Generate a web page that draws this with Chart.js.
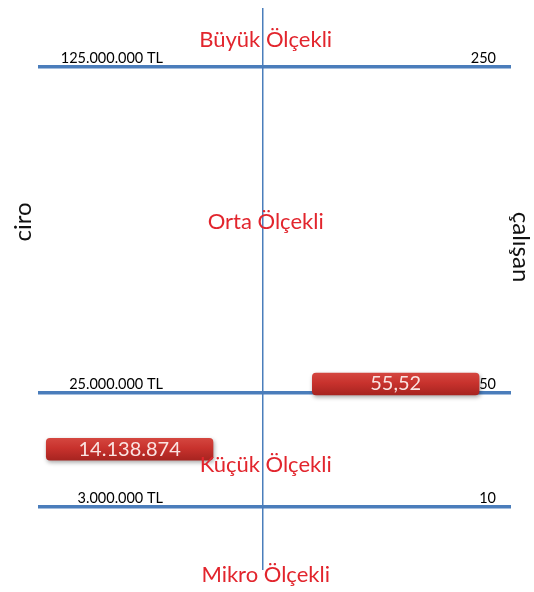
<!DOCTYPE html>
<html lang="tr">
<head>
<meta charset="utf-8">
<script src="https://cdn.jsdelivr.net/npm/chart.js@4.4.1/dist/chart.umd.min.js"></script>
<style>
html,body{margin:0;padding:0;background:#fff;}
#wrap{width:534px;height:592px;position:relative;}
</style>
</head>
<body>
<div id="wrap"><canvas id="c"></canvas></div>
<script>
// ---- data ----
const categories = ['Mikro Ölçekli', 'Küçük Ölçekli', 'Orta Ölçekli', 'Büyük Ölçekli'];
const ciroThresholds = [3000000, 25000000, 125000000];
const calisanThresholds = [10, 50, 250];
const ciroTickLabels = ['3.000.000 TL', '25.000.000 TL', '125.000.000 TL'];
const calisanTickLabels = ['10', '50', '250'];
const ciroValues = [14138874];
const calisanValues = [55.52];
const ciroValueLabels = ['14.138.874'];
const calisanValueLabels = ['55,52'];
const axisTitles = ['ciro', 'çalışan'];

// ---- layout (not data) ----
const TIER_POS = [0.1121, 0.3149, 0.895];      // where each threshold sits on the axis (0 bottom, 1 top)
const BOX = { inner: 0.21, outer: 0.915 };      // horizontal extent of the value boxes (x-scale units)
const FONT = 'Lato';
const TICK_FONT_SIZE = 14.5;

const TIER_BREAKS = { yL: ciroThresholds, yR: calisanThresholds };

// custom piecewise "tier" scale
const Lin = Chart.LinearScale || Chart.registry.getScale('linear');
class TierScale extends Lin {
  buildTicks() {
    return (TIER_BREAKS[this.id] || []).map(v => ({ value: v }));
  }
  _anchors() {
    return { b: [0, ...TIER_BREAKS[this.id]], p: [0, ...TIER_POS] };
  }
  getPixelForValue(value) {
    const { b, p } = this._anchors();
    let i = 1;
    while (i < b.length - 1 && value > b[i]) i++;
    const d = p[i - 1] + (value - b[i - 1]) / (b[i] - b[i - 1]) * (p[i] - p[i - 1]);
    return this.getPixelForDecimal(d);
  }
  getValueForPixel(pixel) {
    const { b, p } = this._anchors();
    const d = this.getDecimalForPixel(pixel);
    let i = 1;
    while (i < p.length - 1 && d > p[i]) i++;
    return b[i - 1] + (d - p[i - 1]) / (p[i] - p[i - 1]) * (b[i] - b[i - 1]);
  }
}
TierScale.id = 'tier';
TierScale.defaults = Lin.defaults;
Chart.register(TierScale);

// measure widest left tick label so labels are right-aligned at a fixed spot
const mctx = document.createElement('canvas').getContext('2d');
mctx.font = TICK_FONT_SIZE + 'px ' + FONT;
const widestL = Math.max(...ciroTickLabels.map(s => mctx.measureText(s).width));
const LEFT_W = 38, RIGHT_W = 23;
const leftPad = 125 - widestL;

function fixSide(width) {
  return (s) => { s.width = width; s.paddingTop = 0; s.paddingBottom = 0; };
}

function barGradient(ctx) {
  const chart = ctx.chart;
  if (!chart.chartArea || !ctx.raw) return '#c6302c';
  const scale = chart.scales[ctx.dataset.yAxisID];
  const y = scale.getPixelForValue(ctx.raw.y);
  const g = chart.ctx.createLinearGradient(0, y - 11, 0, y + 11);
  g.addColorStop(0, '#d4463f');
  g.addColorStop(0.45, '#c8322d');
  g.addColorStop(1, '#a72420');
  return g;
}

const diagramText = {
  id: 'diagramText',
  beforeDatasetsDraw(chart) {
    const c = chart.ctx;
    c.save();
    c.shadowColor = 'rgba(0,0,0,0.35)';
    c.shadowBlur = 4;
    c.shadowOffsetX = 1;
    c.shadowOffsetY = 2;
  },
  afterDatasetsDraw(chart) {
    const c = chart.ctx;
    c.restore();
    const area = chart.chartArea;
    const yL = chart.scales.yL;
    const cx = chart.scales.x.getPixelForValue(0) + 3;
    const yLow = yL.getPixelForValue(ciroThresholds[0]);
    const yMid = yL.getPixelForValue(ciroThresholds[1]);
    const yTop = yL.getPixelForValue(ciroThresholds[2]);
    const tierY = [yLow + 68, yLow - 42, (yTop + yMid) / 2 - 8, yTop - 27];
    c.save();
    c.textAlign = 'center';
    c.textBaseline = 'middle';
    c.font = '22px ' + FONT;
    c.fillStyle = '#e2252d';
    categories.forEach((t, i) => c.fillText(t, cx, tierY[i]));

    c.font = '20px ' + FONT;
    c.fillStyle = '#fae3e1';
    chart.data.datasets.forEach((ds, di) => {
      const meta = chart.getDatasetMeta(di);
      meta.data.forEach((el, j) => {
        const p = el.getProps(['x', 'base', 'y'], true);
        c.fillText(ds.valueLabels[j], (p.x + p.base) / 2, p.y);
      });
    });

    c.font = '24px ' + FONT;
    c.fillStyle = '#111';
    c.save();
    c.translate(area.left / 2 + 4, area.top + 214);
    c.rotate(-Math.PI / 2);
    c.fillText(axisTitles[0], 0, 0);
    c.restore();
    c.save();
    c.translate((area.right + chart.width) / 2 - 2, area.top + 239);
    c.rotate(Math.PI / 2);
    c.fillText(axisTitles[1], 0, 0);
    c.restore();
    c.restore();
  }
};

const barStyle = {
  backgroundColor: barGradient,
  grouped: false,
  barThickness: 22, maxBarThickness: 22,
  borderRadius: 4, borderSkipped: false, borderWidth: 0
};

new Chart(document.getElementById('c'), {
  type: 'bar',
  data: {
    datasets: [
      Object.assign({
        label: axisTitles[0],
        xAxisID: 'x', yAxisID: 'yL',
        data: ciroValues.map(v => ({ y: v, x: [-BOX.outer, -BOX.inner] })),
        valueLabels: ciroValueLabels
      }, barStyle),
      Object.assign({
        label: axisTitles[1],
        xAxisID: 'x', yAxisID: 'yR',
        data: calisanValues.map(v => ({ y: v, x: [BOX.inner, BOX.outer] })),
        valueLabels: calisanValueLabels
      }, barStyle)
    ]
  },
  options: {
    indexAxis: 'y',
    responsive: true,
    maintainAspectRatio: false,
    animation: false,
    layout: { padding: { top: 8, bottom: 22, left: 0, right: 0 } },
    plugins: { legend: { display: false }, tooltip: { enabled: false } },
    scales: {
      x: {
        type: 'linear', position: 'bottom', min: -0.95, max: 1.05,
        afterBuildTicks: (axis) => { axis.ticks = [{ value: 0 }]; },
        ticks: { display: false },
        grid: { color: '#4a7ebb', lineWidth: 1.5, drawTicks: false },
        border: { display: false }
      },
      yL: {
        type: 'tier', position: 'left', offset: false,
        afterFit: fixSide(LEFT_W),
        ticks: {
          mirror: true, crossAlign: 'far', padding: leftPad, labelOffset: -9,
          color: '#000', font: { family: FONT, size: TICK_FONT_SIZE },
          callback: (v, i) => ciroTickLabels[i]
        },
        grid: { color: '#4a7dbb', lineWidth: 3.5, drawTicks: false, offset: false },
        border: { display: false }
      },
      yR: {
        type: 'tier', position: 'right', offset: false,
        afterFit: fixSide(RIGHT_W),
        ticks: {
          mirror: true, crossAlign: 'near', padding: -15, labelOffset: -9,
          color: '#000', font: { family: FONT, size: TICK_FONT_SIZE },
          callback: (v, i) => calisanTickLabels[i]
        },
        grid: { display: false, drawTicks: false, offset: false },
        border: { display: false }
      }
    }
  },
  plugins: [diagramText]
});
</script>
</body>
</html>
